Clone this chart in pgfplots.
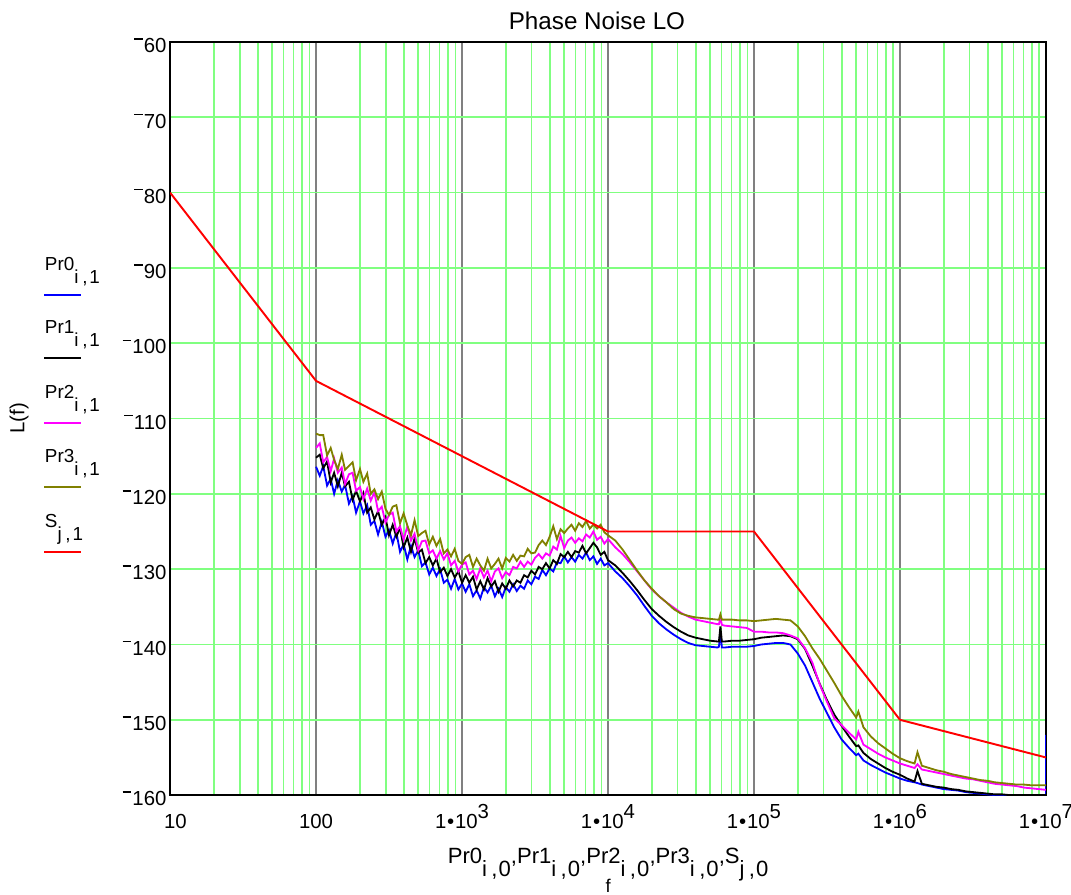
\documentclass[border=0pt]{standalone}
\usepackage{fontspec}
\setmainfont{Liberation Sans}
\usepackage{pgfplots}
\pgfplotsset{compat=1.18}
\usepackage{pgfplotstable}
\usetikzlibrary{calc}
\definecolor{gridgreen}{HTML}{80FF80}
\definecolor{gridgray}{HTML}{808080}
\definecolor{prblue}{HTML}{0000FF}
\definecolor{prmagenta}{HTML}{FF00FF}
\definecolor{prolive}{HTML}{808000}
\definecolor{prred}{HTML}{FF0000}
% Mathcad-style raised minus, bullet and exponent
\newcommand\mcneg{\rule[0.64em]{0.42em}{0.07em}\kern0.06em}
\newcommand\ex[1]{\raisebox{0.45em}{#1}}
\newcommand\dotten{1\kern0.04em\textbullet\kern0.04em 10}

% measured noise traces, f [Hz] and L(f) [dBc/Hz]
\pgfplotstableread{
f        pr0     pr1     pr2     pr3
100      -116.4  -115.2  -113.9  -112.0
106      -117.6  -114.8  -113.3  -112.2
112      -116.3  -116.6  -115.8  -112.2
119      -118.9  -115.7  -115.1  -114.9
126      -118.0  -118.5  -117.0  -113.9
133      -120.0  -117.2  -115.3  -115.5
141      -118.2  -119.0  -117.2  -116.7
150      -119.7  -117.2  -116.5  -114.8
158      -118.8  -119.0  -118.7  -116.8
168      -121.3  -118.4  -117.4  -116.3
178      -120.3  -120.8  -117.2  -115.8
188      -122.5  -119.6  -119.6  -118.2
200      -121.0  -121.0  -119.1  -116.7
211      -122.6  -119.9  -120.7  -118.4
224      -121.5  -122.5  -119.3  -117.3
237      -124.1  -121.8  -120.9  -120.0
251      -123.6  -123.4  -119.8  -119.4
266      -125.4  -122.3  -122.3  -120.7
282      -123.7  -124.1  -121.7  -119.7
299      -125.7  -123.1  -123.8  -122.0
316      -124.8  -125.5  -122.8  -122.8
335      -126.6  -124.1  -122.5  -121.7
355      -125.1  -125.7  -125.0  -121.5
376      -127.7  -124.5  -124.3  -123.9
398      -126.7  -127.1  -126.1  -122.6
422      -128.7  -125.8  -124.3  -124.2
447      -126.9  -127.7  -126.2  -125.5
473      -128.4  -125.9  -125.3  -123.5
501      -127.5  -127.8  -127.5  -125.6
531      -129.6  -127.4  -126.3  -125.2
562      -129.1  -129.2  -126.2  -124.9
596      -130.7  -128.4  -127.9  -126.7
631      -129.8  -129.5  -127.5  -125.7
668      -130.9  -128.6  -128.6  -126.9
708      -130.0  -130.4  -127.6  -126.0
750      -131.8  -129.8  -128.7  -127.9
794      -131.4  -130.9  -127.9  -127.4
841      -132.6  -130.0  -129.5  -128.3
891      -131.3  -131.1  -128.9  -127.3
944      -132.7  -130.3  -130.3  -128.9
1000     -131.9  -131.8  -129.4  -129.3
1059     -133.0  -130.8  -129.1  -128.4
1122     -132.0  -131.8  -130.7  -128.1
1189     -133.6  -131.0  -130.2  -129.7
1259     -132.8  -132.7  -131.3  -128.6
1334     -133.9  -131.6  -129.9  -129.5
1413     -132.4  -132.7  -131.1  -130.2
1496     -133.1  -131.2  -130.2  -128.6
1585     -132.2  -132.3  -131.6  -129.9
1679     -133.6  -131.6  -130.3  -129.3
1778     -132.6  -133.0  -129.9  -128.6
1884     -133.7  -131.9  -131.2  -129.9
1995     -132.4  -132.6  -130.4  -128.5
2113     -133.0  -131.5  -130.8  -129.0
2239     -132.0  -132.3  -129.7  -128.1
2371     -132.9  -131.5  -129.9  -128.9
2512     -132.2  -131.8  -129.0  -128.2
2661     -132.6  -130.8  -129.7  -128.3
2818     -131.5  -131.1  -129.0  -127.3
2985     -132.0  -130.2  -129.4  -127.9
3162     -131.0  -130.7  -128.5  -127.8
3350     -131.3  -129.7  -128.0  -126.8
3548     -130.1  -130.0  -128.6  -126.2
3758     -130.8  -129.2  -127.9  -126.8
3981     -129.9  -129.9  -128.2  -125.7
4217     -130.3  -128.8  -127.0  -124.3
4467     -129.1  -129.3  -127.4  -126.0
4732     -129.2  -128.0  -125.6  -124.7
5012     -128.3  -128.4  -127.2  -125.2
5309     -129.1  -127.7  -126.2  -124.6
5623     -128.4  -128.4  -125.8  -124.1
5957     -129.0  -127.6  -126.5  -124.9
6310     -128.1  -127.8  -125.9  -123.9
6683     -128.6  -126.9  -126.3  -124.4
7079     -127.8  -127.9  -125.4  -123.6
7499     -128.8  -127.2  -125.8  -124.6
7943     -128.3  -126.5  -125.0  -124.1
8414     -129.3  -127.1  -126.1  -124.6
8913     -128.6  -128.1  -125.7  -124.1
9441     -129.5  -127.7  -126.6  -125.1
10000    -129.2  -128.8  -126.0  -125.5
11220    -130.3  -129.5  -127.1  -126.2
12589    -131.2  -130.5  -128.0  -127.4
14125    -132.3  -131.6  -129.1  -128.8
15849    -133.5  -132.8  -130.3  -130.2
17783    -134.9  -134.1  -131.5  -131.5
19953    -136.2  -135.3  -132.7  -132.6
22387    -137.2  -136.2  -133.6  -133.6
25119    -138.0  -137.0  -134.4  -134.4
28184    -138.7  -137.7  -135.1  -135.3
31623    -139.3  -138.3  -135.8  -135.9
35481    -139.8  -138.8  -136.3  -136.2
39811    -140.1  -139.1  -136.7  -136.4
44668    -140.2  -139.3  -136.9  -136.5
50119    -140.3  -139.5  -137.1  -136.6
56234    -140.4  -139.6  -137.3  -136.7
57544    -140.3  -139.6  -137.3  -136.7
58884    -138.3  -137.6  -136.4  -136.0
60256    -140.4  -139.6  -137.4  -136.7
63096    -140.4  -139.6  -137.5  -136.7
70795    -140.3  -139.5  -137.6  -136.7
79433    -140.3  -139.5  -137.7  -136.8
89125    -140.3  -139.4  -137.8  -136.8
100000   -140.2  -139.3  -138.3  -136.9
112202   -140.0  -139.1  -138.3  -136.8
125893   -139.9  -139.0  -138.4  -136.7
141254   -139.8  -138.9  -138.4  -136.6
158489   -139.8  -138.8  -138.5  -136.7
177828   -140.0  -138.9  -138.8  -136.8
199526   -141.2  -139.3  -139.2  -137.6
223872   -142.8  -140.6  -140.5  -138.9
251189   -145.0  -142.8  -142.4  -140.5
281838   -147.2  -145.2  -145.3  -141.9
316228   -149.1  -147.4  -147.6  -143.5
354813   -151.0  -149.3  -149.8  -145.1
398107   -152.6  -150.8  -150.7  -146.8
446684   -153.7  -152.2  -151.7  -148.3
501187   -154.7  -153.5  -152.6  -149.7
518800   -154.5  -153.4  -151.6  -148.9
562341   -155.4  -154.4  -153.3  -151.0
630957   -156.0  -155.2  -153.9  -152.2
707946   -156.5  -155.8  -154.5  -153.1
794328   -157.0  -156.4  -155.0  -153.8
891251   -157.4  -156.9  -155.4  -154.5
1000000  -157.8  -157.3  -155.8  -155.1
1122018  -158.1  -157.8  -156.1  -155.5
1258925  -158.3  -158.2  -156.4  -155.8
1318257  -158.4  -156.8  -155.9  -154.3
1412538  -158.6  -158.5  -156.6  -156.1
1584893  -158.8  -158.7  -156.8  -156.4
1778279  -159.0  -158.9  -157.0  -156.7
1995262  -159.2  -159.0  -157.2  -156.9
2238721  -159.3  -159.2  -157.4  -157.2
2511886  -159.4  -159.3  -157.6  -157.4
2818383  -159.6  -159.5  -157.8  -157.6
3162278  -159.7  -159.6  -157.9  -157.8
3548134  -159.8  -159.7  -158.1  -158.0
3981072  -159.9  -159.8  -158.3  -158.1
4466836  -160.0  -159.9  -158.5  -158.3
5011872  -160.1  -159.9  -158.6  -158.4
5623413  -160.1  -160.0  -158.7  -158.5
6309573  -160.2  -160.0  -158.8  -158.6
7079458  -160.1  -160.0  -159.0  -158.6
7943282  -160.2  -160.1  -159.1  -158.7
8912509  -160.1  -160.0  -159.2  -158.7
10000000 -160.2  -160.0  -159.3  -158.7
10000000 -152.0  -160.0  -159.3  -158.7
}\noisedata

\begin{document}
\begin{tikzpicture}
\begin{axis}[
  scale only axis,
  width=408.9pt, height=351.6pt,
  xmode=log, log basis x=10,
  xmin=10, xmax=1e7, ymin=-160, ymax=-60,
  xtick={10,100,1000,10000,100000,1000000,10000000},
  xticklabels={\makebox[0pt][l]{\kern-2.8pt 10},100,\dotten\ex{3},\dotten\ex{4},\dotten\ex{5},\dotten\ex{6},\dotten\ex{7}},
  minor xtick={20,30,40,50,60,70,80,90,
    200,300,400,500,600,700,800,900,
    2000,3000,4000,5000,6000,7000,8000,9000,
    20000,30000,40000,50000,60000,70000,80000,90000,
    200000,300000,400000,500000,600000,700000,800000,900000,
    2000000,3000000,4000000,5000000,6000000,7000000,8000000,9000000},
  ytick={-160,-150,-140,-130,-120,-110,-100,-90,-80,-70,-60},
  yticklabels={\mcneg160,\mcneg150,\mcneg140,\mcneg130,\mcneg120,\mcneg110,\mcneg100,\mcneg90,\mcneg80,\mcneg70,\mcneg60},
  major tick length=0pt, minor tick length=0pt,
  xmajorgrids, xminorgrids, ymajorgrids,
  major x grid style={gridgray, line width=0.8pt},
  minor x grid style={gridgreen, line width=0.75pt},
  major y grid style={gridgreen, line width=0.75pt},
  axis line style={black, line width=1pt},
  tick label style={font=\fontsize{9.5}{11}\selectfont},
  xticklabel style={anchor=base, yshift=-15.4pt},
  yticklabel style={anchor=east, inner sep=0pt, xshift=-1.5pt, yshift=-1.7pt},
]
\addplot[prblue, line width=0.85pt] table[x=f, y=pr0] {\noisedata};
\addplot[black, line width=0.85pt] table[x=f, y=pr1] {\noisedata};
\addplot[prmagenta, line width=0.85pt] table[x=f, y=pr2] {\noisedata};
\addplot[prolive, line width=0.85pt] table[x=f, y=pr3] {\noisedata};
\addplot[prred, line width=0.9pt] coordinates {(10,-80) (100,-105) (10000,-125) (100000,-125) (1000000,-150) (10000000,-155)};
\coordinate (sw) at (rel axis cs:0,0);
\coordinate (ne) at (rel axis cs:1,1);
\end{axis}

\begin{scope}[shift={(sw)}]
  \node[anchor=base, inner sep=0pt, font=\fontsize{11.3}{13}\selectfont] at (199.3pt,357.6pt) {Phase Noise LO};
  \node[anchor=base, inner sep=0pt, font=\fontsize{10.3}{12}\selectfont] at (204.5pt,-31.7pt)
    {Pr0\raisebox{-6.2pt}{i\kern0.2em,\kern0.05em0},Pr1\raisebox{-6.2pt}{i\kern0.2em,\kern0.05em0},Pr2\raisebox{-6.2pt}{i\kern0.2em,\kern0.05em0},Pr3\raisebox{-6.2pt}{i\kern0.2em,\kern0.05em0},S\raisebox{-6.2pt}{j\kern0.2em,\kern0.05em0}};
  \node[anchor=base, inner sep=0pt, font=\fontsize{8.6}{10}\selectfont] at (204.5pt,-45.6pt) {f};
  \node[rotate=90, inner sep=0pt, font=\fontsize{9.5}{11}\selectfont] at (-70.5pt,176pt) {L(f)};
  \foreach \n/\c/\y/\s in {Pr0/prblue/233.4/i, Pr1/black/204.0/i, Pr2/prmagenta/173.6/i, Pr3/prolive/143.8/i, S/prred/113.4/j} {
    \draw[\c, line width=0.9pt] (-58.8pt,\y pt) -- (-41.6pt,\y pt);
    \node[anchor=base west, inner sep=0pt, font=\fontsize{8.8}{10}\selectfont] at (-58.6pt,\y pt+11.7pt)
      {\n\raisebox{-6.1pt}{\s\kern0.2em,\kern0.1em1}};
  }
\end{scope}

\pgfresetboundingbox
\path[use as bounding box] ($(sw)+(-79.4pt,-46.2pt)$) rectangle ($(ne)+(11.7pt,19.6pt)$);
\end{tikzpicture}
\end{document}
